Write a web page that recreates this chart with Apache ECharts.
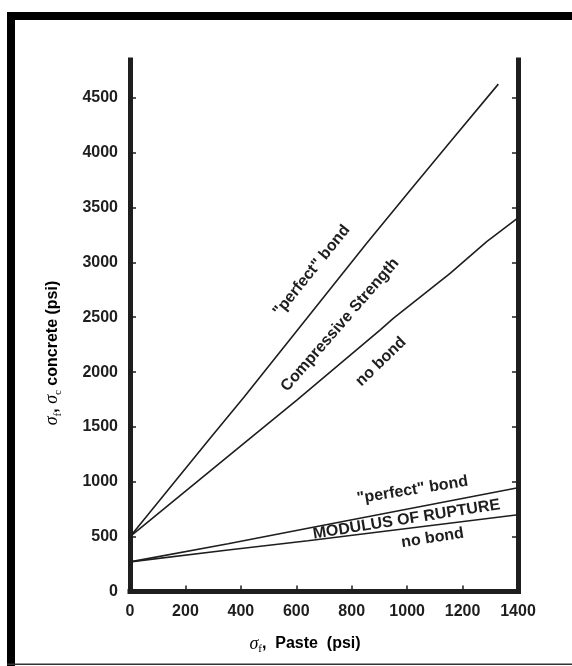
<!DOCTYPE html>
<html><head><meta charset="utf-8">
<script src="https://cdn.jsdelivr.net/npm/echarts@6/dist/echarts.min.js"></script>
<style>html,body{margin:0;padding:0;background:#fff}#c{width:572px;height:666px}</style>
</head><body><div id="c"></div>
<script>
// ---- data ----
const xTickValues = [0, 200, 400, 600, 800, 1000, 1200, 1400];
const yTickValues = [0, 500, 1000, 1500, 2000, 2500, 3000, 3500, 4000, 4500];

// Compressive strength, "perfect" bond
const compPerfectPaste = [0, 289, 411, 854, 1011, 1161, 1329];
const compPerfectConcrete = [500, 1396, 1770, 3175, 3658, 4115, 4625];
// Compressive strength, no bond
const compNoPaste = [0, 433, 602, 902, 950, 1155, 1287, 1400];
const compNoConcrete = [500, 1396, 1745, 2383, 2490, 2900, 3190, 3405];
// Modulus of rupture, "perfect" bond
const morPerfectPaste = [0, 354, 642, 1400];
const morPerfectConcrete = [270, 435, 576, 945];
// Modulus of rupture, no bond
const morNoPaste = [0, 354, 642, 1400];
const morNoConcrete = [270, 378, 463, 700];

const annotationTexts = ['"perfect" bond', 'Compressive Strength', 'no bond', '"perfect" bond', 'MODULUS OF RUPTURE', 'no bond'];

// ---- chart ----
const zip = (xs, ys) => xs.map((x, i) => [x, ys[i]]);
const INK = '#1e1e1e';
const FONT = '"Liberation Sans", Arial, sans-serif';
const SERIF = '"Liberation Serif", "DejaVu Serif", serif';

const chart = echarts.init(document.getElementById('c'), null, {renderer: 'canvas'});

const lineSeries = (name, xs, ys) => ({
  name, type: 'line', data: zip(xs, ys), showSymbol: false, symbol: 'none',
  lineStyle: {color: INK, width: 1.6}, silent: true, animation: false
});

const axisLineStyle = {color: INK, width: 5, cap: 'square'};
const plain = v => String(v);

const richName = {
  s: {fontFamily: SERIF, fontStyle: 'italic', fontWeight: 'normal', fontSize: 18, color: INK, lineHeight: 22, verticalAlign: 'middle'},
  sub: {fontFamily: SERIF, fontStyle: 'normal', fontWeight: 'normal', fontSize: 11, color: INK, lineHeight: 11, verticalAlign: 'bottom'},
  t: {fontFamily: FONT, fontWeight: 'bold', fontSize: 16, color: INK, lineHeight: 22, verticalAlign: 'middle'}
};

const deg = d => d * Math.PI / 180;
const annStyle = (text, size) => ({text, fontFamily: FONT, fontWeight: 'bold', fontSize: size, fill: INK, align: 'center', verticalAlign: 'middle'});

const annPos = [
  {x: 311.7, y: 270.8, r: 51},
  {x: 340, y: 325, r: 49},
  {x: 381, y: 361.7, r: 44},
  {x: 412.5, y: 490, r: 9},
  {x: 406.5, y: 519.5, r: 9},
  {x: 432.5, y: 538, r: 9}
];

chart.setOption({
  animation: false,
  backgroundColor: '#fff',
  grid: {left: 130, right: 54, top: 60, bottom: 74.5, containLabel: false, outerBoundsMode: 'none'},
  xAxis: {
    type: 'value', min: 0, max: 1400, interval: 200,
    axisLine: {show: true, onZero: false, lineStyle: axisLineStyle},
    axisTick: {show: true, inside: true, length: 6, lineStyle: {color: INK, width: 1.5}, customValues: xTickValues},
    axisLabel: {color: INK, fontFamily: FONT, fontWeight: 'bold', fontSize: 16, margin: 12, customValues: xTickValues, formatter: plain},
    splitLine: {show: false}
  },
  yAxis: [{
    type: 'value', min: 0, max: 4845, position: 'left',
    axisLine: {show: true, onZero: false, lineStyle: axisLineStyle},
    axisTick: {show: true, inside: true, length: 6, lineStyle: {color: INK, width: 1.5}, customValues: yTickValues},
    axisLabel: {color: INK, fontFamily: FONT, fontWeight: 'bold', fontSize: 16, margin: 12, customValues: yTickValues, formatter: plain},
    splitLine: {show: false}
  }, {
    type: 'value', min: 0, max: 4845, position: 'right',
    axisLine: {show: true, onZero: false, lineStyle: axisLineStyle},
    axisTick: {show: true, inside: true, length: 6, lineStyle: {color: INK, width: 1.5}, customValues: yTickValues},
    axisLabel: {show: false},
    splitLine: {show: false}
  }],
  series: [
    lineSeries('Compressive "perfect" bond', compPerfectPaste, compPerfectConcrete),
    lineSeries('Compressive no bond', compNoPaste, compNoConcrete),
    lineSeries('MOR "perfect" bond', morPerfectPaste, morPerfectConcrete),
    lineSeries('MOR no bond', morNoPaste, morNoConcrete)
  ],
  graphic: [
    // frame
    {type: 'rect', shape: {x: 7, y: 12, width: 8, height: 660}, style: {fill: '#000'}, silent: true},
    {type: 'rect', shape: {x: 7, y: 12, width: 570, height: 8}, style: {fill: '#000'}, silent: true},
    {type: 'rect', shape: {x: 7, y: 663.5, width: 570, height: 1.5}, style: {fill: '#333'}, silent: true},
    // axis titles
    {type: 'text', x: 305, y: 644, style: {text: '{s|σ}{sub|f}{t|,  Paste  (psi)}', rich: richName, align: 'center', verticalAlign: 'middle'}, silent: true},
    {type: 'text', x: 52.5, y: 353, rotation: deg(90), style: {text: '{s|σ}{sub|f}{t|, }{s|σ}{sub|c}{t| concrete (psi)}', rich: richName, align: 'center', verticalAlign: 'middle'}, silent: true},
    // annotations
    ...annotationTexts.map((t, i) => ({
      type: 'text', x: annPos[i].x, y: annPos[i].y, rotation: deg(annPos[i].r),
      style: annStyle(t, 16), silent: true
    }))
  ]
});
</script>
</body></html>
